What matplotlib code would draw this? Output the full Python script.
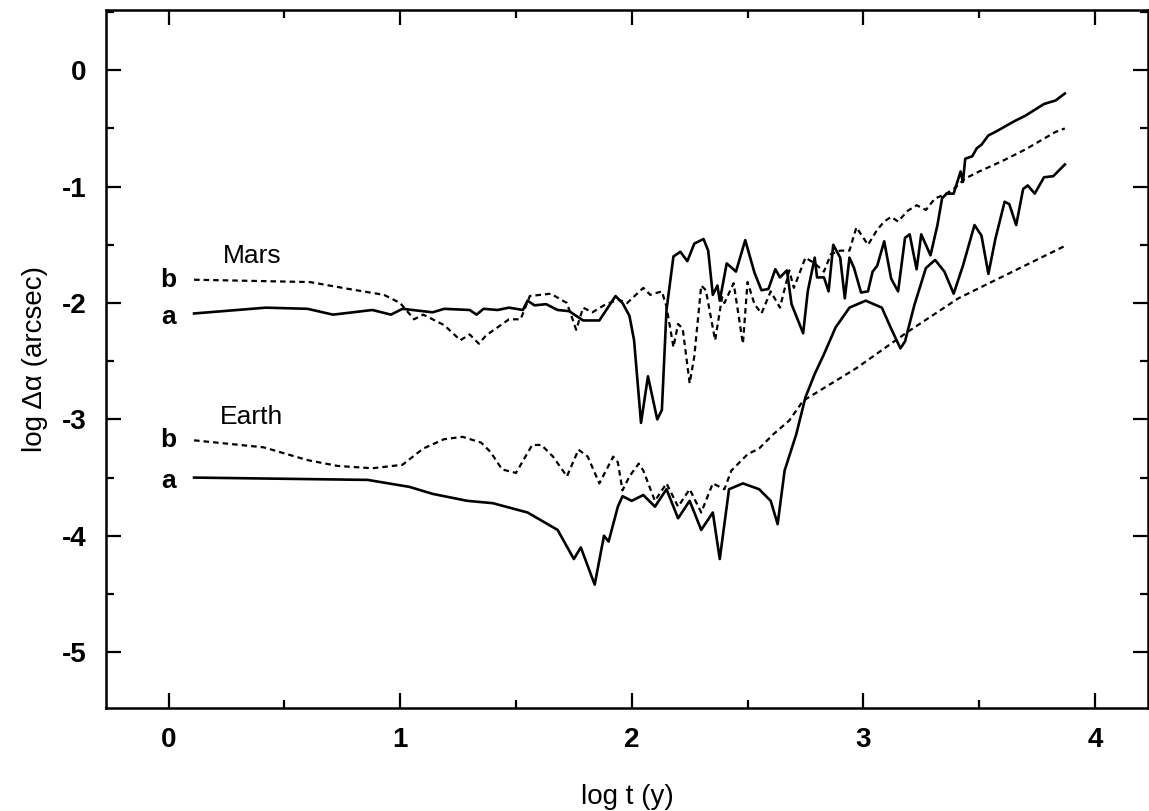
import matplotlib
matplotlib.use("Agg")
import matplotlib.pyplot as plt
from matplotlib.ticker import MultipleLocator

plt.rcParams['font.family'] = ['Liberation Sans', 'DejaVu Sans']
plt.rcParams['axes.unicode_minus'] = False

mars_a_x = [0.11, 0.42, 0.60, 0.71, 0.88, 0.96, 1.01, 1.14, 1.19, 1.30, 1.33, 1.36, 1.42, 1.47, 1.53, 1.55, 1.58, 1.63, 1.68, 1.73, 1.79, 1.86, 1.93, 1.96, 1.99, 2.01, 2.04, 2.07, 2.11, 2.13, 2.15, 2.18, 2.21, 2.24, 2.27, 2.31, 2.33, 2.35, 2.37, 2.38, 2.41, 2.45, 2.49, 2.53, 2.56, 2.59, 2.62, 2.64, 2.67, 2.69, 2.74, 2.76, 2.79, 2.80, 2.83, 2.85, 2.87, 2.90, 2.92, 2.94, 2.96, 2.99, 3.02, 3.04, 3.06, 3.09, 3.12, 3.15, 3.18, 3.20, 3.23, 3.25, 3.29, 3.32, 3.34, 3.36, 3.39, 3.42, 3.43, 3.44, 3.47, 3.49, 3.51, 3.54, 3.57, 3.65, 3.70, 3.78, 3.83, 3.87]
mars_a_y = [-2.09, -2.04, -2.05, -2.10, -2.06, -2.10, -2.05, -2.08, -2.05, -2.06, -2.10, -2.05, -2.06, -2.04, -2.06, -1.98, -2.02, -2.01, -2.06, -2.07, -2.15, -2.15, -1.94, -2.00, -2.11, -2.32, -3.03, -2.63, -3.00, -2.92, -2.06, -1.60, -1.56, -1.64, -1.49, -1.45, -1.55, -1.93, -1.85, -1.98, -1.66, -1.73, -1.46, -1.74, -1.89, -1.88, -1.71, -1.78, -1.72, -2.01, -2.26, -1.90, -1.61, -1.78, -1.78, -1.90, -1.50, -1.61, -1.96, -1.61, -1.70, -1.91, -1.90, -1.73, -1.68, -1.47, -1.79, -1.90, -1.44, -1.41, -1.71, -1.41, -1.59, -1.33, -1.10, -1.06, -1.06, -0.87, -0.96, -0.76, -0.74, -0.67, -0.64, -0.56, -0.53, -0.44, -0.39, -0.29, -0.26, -0.20]

mars_b_x = [0.11, 0.61, 0.78, 0.93, 1.00, 1.06, 1.10, 1.19, 1.26, 1.30, 1.34, 1.37, 1.47, 1.52, 1.56, 1.65, 1.72, 1.76, 1.79, 1.83, 1.88, 1.94, 1.98, 2.05, 2.08, 2.13, 2.15, 2.18, 2.20, 2.22, 2.25, 2.27, 2.30, 2.32, 2.36, 2.39, 2.40, 2.44, 2.48, 2.50, 2.53, 2.56, 2.60, 2.64, 2.68, 2.70, 2.75, 2.79, 2.83, 2.86, 2.90, 2.94, 2.97, 3.02, 3.06, 3.09, 3.12, 3.15, 3.19, 3.23, 3.27, 3.31, 3.35, 3.39, 3.44, 3.50, 3.60, 3.70, 3.83, 3.87]
mars_b_y = [-1.80, -1.82, -1.88, -1.93, -2.00, -2.14, -2.10, -2.19, -2.32, -2.27, -2.35, -2.28, -2.14, -2.14, -1.94, -1.92, -2.00, -2.23, -2.04, -2.08, -2.02, -1.97, -2.00, -1.87, -1.93, -1.90, -2.03, -2.38, -2.18, -2.22, -2.69, -2.46, -1.85, -1.89, -2.32, -1.95, -2.00, -1.83, -2.35, -1.82, -2.01, -2.09, -1.90, -2.04, -1.72, -1.87, -1.61, -1.66, -1.73, -1.58, -1.55, -1.55, -1.35, -1.50, -1.37, -1.30, -1.26, -1.30, -1.21, -1.16, -1.20, -1.10, -1.07, -1.02, -0.93, -0.87, -0.78, -0.68, -0.53, -0.50]

earth_a_x = [0.11, 0.86, 1.04, 1.14, 1.29, 1.40, 1.55, 1.68, 1.75, 1.78, 1.84, 1.88, 1.90, 1.94, 1.96, 2.00, 2.05, 2.10, 2.15, 2.20, 2.25, 2.30, 2.35, 2.38, 2.42, 2.48, 2.55, 2.60, 2.63, 2.66, 2.71, 2.75, 2.79, 2.83, 2.88, 2.94, 3.01, 3.08, 3.12, 3.16, 3.18, 3.22, 3.27, 3.31, 3.35, 3.39, 3.43, 3.48, 3.51, 3.54, 3.57, 3.61, 3.63, 3.66, 3.69, 3.71, 3.74, 3.78, 3.82, 3.87]
earth_a_y = [-3.50, -3.52, -3.58, -3.64, -3.70, -3.72, -3.80, -3.95, -4.20, -4.10, -4.42, -4.00, -4.05, -3.75, -3.66, -3.70, -3.65, -3.75, -3.60, -3.85, -3.70, -3.95, -3.80, -4.20, -3.60, -3.55, -3.60, -3.70, -3.90, -3.44, -3.13, -2.81, -2.61, -2.44, -2.21, -2.04, -1.98, -2.04, -2.22, -2.39, -2.33, -2.02, -1.70, -1.63, -1.73, -1.92, -1.68, -1.33, -1.42, -1.75, -1.45, -1.13, -1.15, -1.33, -1.02, -0.99, -1.06, -0.92, -0.91, -0.81]

earth_b_x = [0.11, 0.41, 0.60, 0.73, 0.88, 1.01, 1.10, 1.19, 1.27, 1.35, 1.39, 1.44, 1.50, 1.57, 1.61, 1.66, 1.72, 1.77, 1.81, 1.86, 1.92, 1.94, 1.96, 1.99, 2.03, 2.05, 2.10, 2.15, 2.20, 2.25, 2.30, 2.35, 2.40, 2.43, 2.50, 2.55, 2.61, 2.68, 2.74, 2.97, 3.19, 3.41, 3.87]
earth_b_y = [-3.18, -3.24, -3.35, -3.40, -3.42, -3.39, -3.25, -3.17, -3.15, -3.20, -3.28, -3.43, -3.46, -3.22, -3.22, -3.32, -3.49, -3.26, -3.32, -3.55, -3.32, -3.37, -3.61, -3.49, -3.38, -3.44, -3.70, -3.55, -3.75, -3.60, -3.80, -3.55, -3.60, -3.44, -3.30, -3.25, -3.13, -3.01, -2.84, -2.56, -2.25, -1.96, -1.51]

planet_names = ["Mars", "Earth"]
name_y = [-1.60, -2.98]
case_labels = ["b", "a", "b", "a"]
case_y = [-1.80, -2.12, -3.18, -3.53]

fig = plt.figure(figsize=(11.49, 8.11), dpi=100)
ax = fig.add_axes([0.0923, 0.127, 0.907, 0.861])

solid_kw = dict(color='black', lw=1.9, solid_joinstyle='round')
dash_kw = dict(color='black', lw=1.6, linestyle=(0, (2.5, 1.8)))

ax.plot(mars_a_x, mars_a_y, **solid_kw)
ax.plot(mars_b_x, mars_b_y, **dash_kw)
ax.plot(earth_a_x, earth_a_y, **solid_kw)
ax.plot(earth_b_x, earth_b_y, **dash_kw)

for name, yy in zip(planet_names, name_y):
    ax.text(0.36, yy, name, fontsize=19, ha='center', va='center')
for lab, yy in zip(case_labels, case_y):
    ax.text(0.0, yy, lab, fontsize=19, fontweight='bold', ha='center', va='center')

ax.set_xlim(-0.27, 4.23)
ax.set_ylim(-5.48, 0.52)
ax.xaxis.set_major_locator(MultipleLocator(1))
ax.xaxis.set_minor_locator(MultipleLocator(0.5))
ax.yaxis.set_major_locator(MultipleLocator(1))
ax.yaxis.set_minor_locator(MultipleLocator(0.5))
ax.tick_params(which='both', direction='in', top=True, right=True, width=1.6)
ax.tick_params(which='major', length=11, labelsize=20, pad=14)
ax.tick_params(which='minor', length=6)
for lab in ax.get_xticklabels() + ax.get_yticklabels():
    lab.set_fontweight('bold')
for s in ax.spines.values():
    s.set_linewidth(1.8)

ax.set_xlabel('log t (y)', fontsize=20, labelpad=22)
ax.set_ylabel('log Δα (arcsec)', fontsize=20, labelpad=10)

fig.savefig('out.png', dpi=100)
